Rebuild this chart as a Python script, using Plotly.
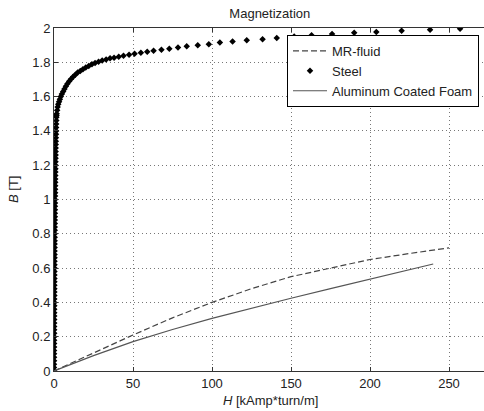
import plotly.graph_objects as go

# Steel B-H data (H in kAmp*turn/m, B in T)
steel_H = [0.00, 0.01, 0.02, 0.03, 0.04, 0.05, 0.06, 0.07, 0.08, 0.09,
           0.10, 0.11, 0.12, 0.13, 0.14, 0.15, 0.16, 0.17, 0.18, 0.19,
           0.20, 0.21, 0.22, 0.23, 0.24, 0.25, 0.26, 0.27, 0.28, 0.29,
           0.30, 0.315, 0.33, 0.345, 0.36, 0.375, 0.39, 0.405, 0.42, 0.435,
           0.45, 0.465, 0.48, 0.50, 0.52, 0.54, 0.56, 0.58, 0.60, 0.625,
           0.65, 0.675, 0.70, 0.725, 0.75, 0.775, 0.80, 0.83, 0.86, 0.89,
           0.92, 0.95, 0.98, 1.015, 1.05, 1.085, 1.12, 1.16, 1.20, 1.25,
           1.30, 1.35, 1.40, 1.46, 1.52, 1.60,
           1.7, 2.0, 2.3, 2.7, 3.2, 3.7, 4.3, 5.0, 5.8, 6.6, 7.5, 8.5, 9.6,
           10.8, 12.1, 13.5, 15.0, 16.6, 18.3, 20.1, 22.0, 24.0, 26.0, 28.2,
           30.5, 33.0, 35.5, 38.0, 41.0, 44.0, 47.5, 51.0, 55.0, 59.0, 63.0,
           68.0, 73.0, 78.5, 84.0, 91.0, 98.0, 105.0, 113.0, 122.0, 132.0,
           141.0, 152.0, 163.0, 176.0, 190.0, 204.0, 220.0, 238.0, 257.0]
steel_B = [0.00, 0.02, 0.04, 0.06, 0.08, 0.10, 0.12, 0.14, 0.16, 0.18,
           0.20, 0.22, 0.24, 0.26, 0.28, 0.30, 0.32, 0.34, 0.36, 0.38,
           0.40, 0.42, 0.44, 0.46, 0.48, 0.50, 0.52, 0.54, 0.56, 0.58,
           0.60, 0.62, 0.64, 0.66, 0.68, 0.70, 0.72, 0.74, 0.76, 0.78,
           0.80, 0.82, 0.84, 0.86, 0.88, 0.90, 0.92, 0.94, 0.96, 0.98,
           1.00, 1.02, 1.04, 1.06, 1.08, 1.10, 1.12, 1.14, 1.16, 1.18,
           1.20, 1.22, 1.24, 1.26, 1.28, 1.30, 1.32, 1.34, 1.36, 1.38,
           1.40, 1.42, 1.44, 1.46, 1.48, 1.49,
           1.50, 1.52, 1.54, 1.555, 1.57, 1.585, 1.60, 1.615, 1.63, 1.645,
           1.66, 1.675, 1.69, 1.703, 1.716, 1.728, 1.74, 1.75, 1.76, 1.77,
           1.779, 1.788, 1.796, 1.803, 1.81, 1.817, 1.823, 1.827, 1.832,
           1.838, 1.844, 1.85, 1.856, 1.862, 1.868, 1.873, 1.879, 1.887,
           1.893, 1.899, 1.905, 1.915, 1.922, 1.928, 1.935, 1.942, 1.95,
           1.957, 1.965, 1.972, 1.977, 1.984, 1.99, 1.996]

# MR-fluid
mr_H = [0, 25, 50, 75, 100, 125, 150, 175, 200, 225, 250]
mr_B = [0, 0.105, 0.21, 0.31, 0.40, 0.48, 0.55, 0.60, 0.65, 0.685, 0.718]

# Aluminum coated foam
al_H = [0, 25, 50, 75, 100, 125, 150, 175, 200, 225, 240]
al_B = [0, 0.09, 0.171, 0.242, 0.307, 0.367, 0.424, 0.48, 0.535, 0.592, 0.624]

x_ticks = [0, 50, 100, 150, 200, 250]
y_ticks = [0, 0.2, 0.4, 0.6, 0.8, 1, 1.2, 1.4, 1.6, 1.8, 2]
y_tick_text = ["0", "0.2", "0.4", "0.6", "0.8", "1", "1.2", "1.4", "1.6", "1.8", "2"]

FONT = "Liberation Sans, Arial, sans-serif"

fig = go.Figure()
fig.add_trace(go.Scatter(x=mr_H, y=mr_B, mode="lines", name="MR-fluid",
                         line=dict(color="#444444", width=1.2, dash="6px,3px")))
fig.add_trace(go.Scatter(x=steel_H, y=steel_B, mode="markers", name="Steel",
                         marker=dict(symbol="diamond", size=5, color="black")))
fig.add_trace(go.Scatter(x=al_H, y=al_B, mode="lines", name="Aluminum Coated Foam",
                         line=dict(color="#555555", width=1.2)))

fig.update_layout(
    width=484, height=411,
    margin=dict(l=54, r=0, t=28, b=40),
    paper_bgcolor="white", plot_bgcolor="white",
    font=dict(family=FONT, size=13, color="#222222"),
    title=dict(text="Magnetization", x=0.5575, xanchor="center",
               y=1 - 13 / 411, yanchor="middle", font=dict(size=13, color="#222222")),
    showlegend=True,
    legend=dict(x=(287 - 54) / 430, y=1 - 7 / 343, xanchor="left", yanchor="top",
                bgcolor="white", bordercolor="black", borderwidth=1, itemwidth=34,
                font=dict(size=13, color="#222222"), tracegroupgap=0),
    xaxis=dict(range=[0, 430 / 1.58], tickvals=x_ticks, ticks="inside", ticklen=4,
               tickcolor="#333333", showline=True, linecolor="#333333", linewidth=1,
               mirror="ticks", showgrid=True, gridcolor="#777777", griddash="1px,3px",
               gridwidth=1, zeroline=False, tickfont=dict(size=13)),
    yaxis=dict(range=[0, 2], tickvals=y_ticks, ticktext=y_tick_text, ticks="inside",
               ticklen=4, tickcolor="#333333", showline=True, linecolor="#333333",
               linewidth=1, mirror=False, showgrid=True, gridcolor="#777777",
               griddash="1px,3px", gridwidth=1, zeroline=False, tickfont=dict(size=13)),
    annotations=[
        dict(text="<i>H</i> [kAmp*turn/m]", xref="paper", yref="paper",
             x=(270 - 54) / 430, y=-(400 - 371) / 343, xanchor="center",
             yanchor="middle", showarrow=False, font=dict(size=13, color="#222222")),
        dict(text="<i>B</i> [T]", xref="paper", yref="paper",
             x=-(54 - 14) / 430, y=(371 - 190) / 343, xanchor="center",
             yanchor="middle", textangle=-90, showarrow=False,
             font=dict(size=13, color="#222222")),
    ],
)

fig.write_html("out.html")
